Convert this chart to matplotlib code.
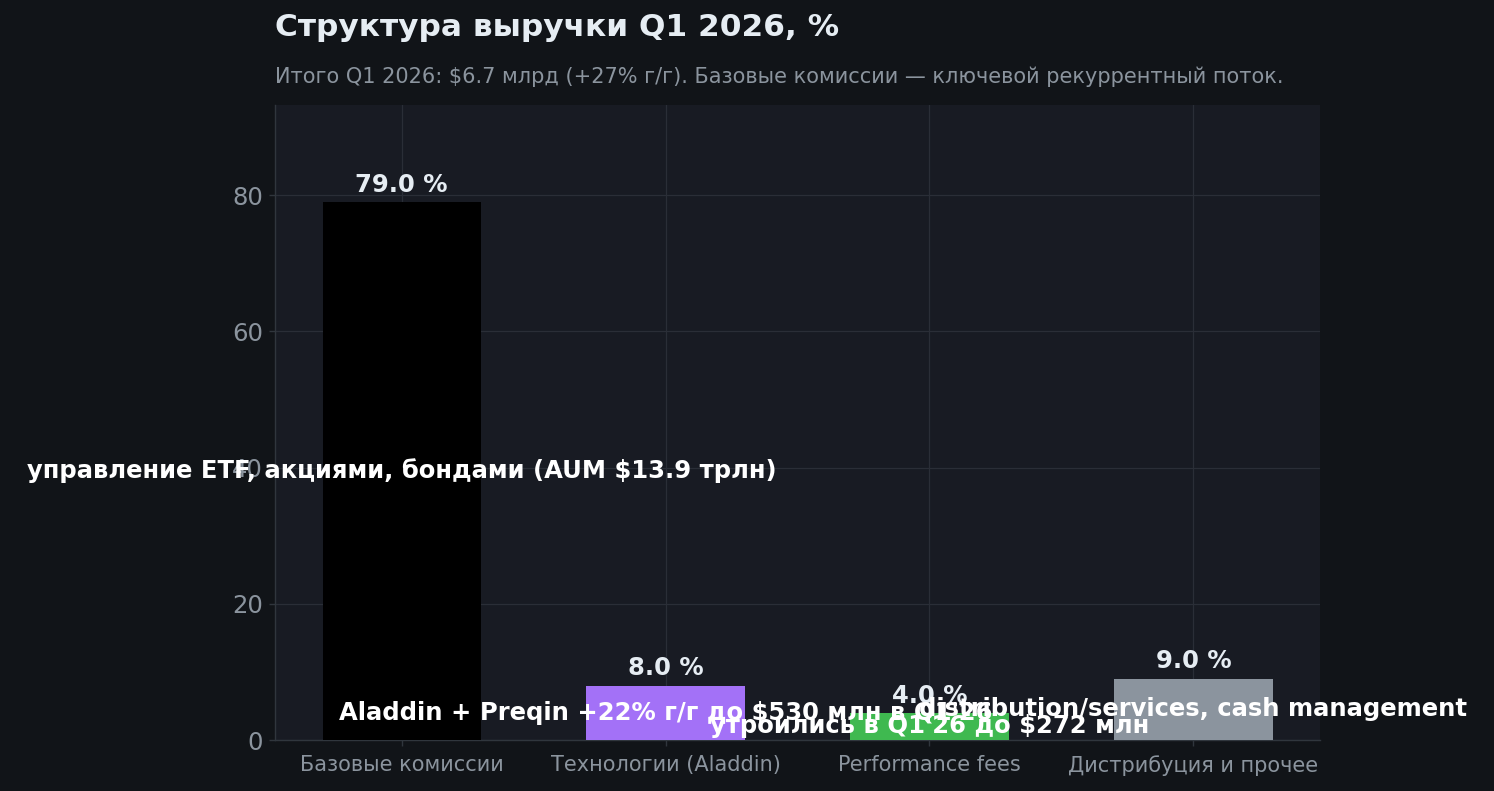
import matplotlib
matplotlib.use("Agg")
import matplotlib.pyplot as plt

categories = ["Базовые комиссии", "Технологии (Aladdin)", "Performance fees", "Дистрибуция и прочее"]
values = [79.0, 8.0, 4.0, 9.0]
notes = [
    "управление ETF, акциями, бондами (AUM $13.9 трлн)",
    "Aladdin + Preqin +22% г/г до $530 млн в Q1'26",
    "утроились в Q1'26 до $272 млн",
    "distribution/services, cash management",
]
colors = ["#000000", "#a371f7", "#3fb950", "#8b949e"]
title = "Структура выручки Q1 2026, %"
subtitle = "Итого Q1 2026: $6.7 млрд (+27% г/г). Базовые комиссии — ключевой рекуррентный поток."

FIG_BG = "#111418"
AX_BG = "#181b23"
GRID = "#2a2e37"
SPINE = "#30363d"
TICK = "#8b949e"
TXT = "#e6edf3"

plt.rcParams["font.family"] = ["DejaVu Sans"]

DPI = 125
fig = plt.figure(figsize=(1494 / DPI, 791 / DPI), dpi=DPI, facecolor=FIG_BG)
ax = fig.add_axes([275 / 1494, 51 / 791, 1045 / 1494, 635 / 791])
ax.set_facecolor(AX_BG)

x = list(range(len(categories)))
bars = ax.bar(x, values, width=0.6, color=colors, zorder=3)

ax.set_ylim(0, max(values) * 1.18)
ax.set_xticks(x)
ax.set_xticklabels(categories, fontsize=12, color=TICK)
ax.set_yticks([0, 20, 40, 60, 80])
ax.tick_params(axis="y", labelsize=14, colors=SPINE, labelcolor=TICK)
ax.tick_params(axis="x", colors=SPINE, labelcolor=TICK, pad=5)
ax.grid(True, color=GRID, linewidth=0.7, zorder=0)
ax.set_axisbelow(True)
for side in ["top", "right"]:
    ax.spines[side].set_visible(False)
for side in ["left", "bottom"]:
    ax.spines[side].set_color(SPINE)

for xi, v in zip(x, values):
    ax.annotate(f"{v:.1f} %", (xi, v), xytext=(0, 3), textcoords="offset points",
                ha="center", va="bottom", fontsize=14, fontweight="bold", color=TXT, zorder=5)

for xi, v, n in zip(x, values, notes):
    ax.text(xi, v / 2, n, ha="center", va="center", fontsize=14, fontweight="bold",
            color="white", zorder=6)

fig.text(275 / 1494, 1 - 28 / 791, title, ha="left", va="center", fontsize=18,
         fontweight="bold", color=TXT)
fig.text(275 / 1494, 1 - 77 / 791, subtitle, ha="left", va="center", fontsize=12,
         color=TICK)

fig.savefig("out.png", dpi=DPI, facecolor=FIG_BG)
